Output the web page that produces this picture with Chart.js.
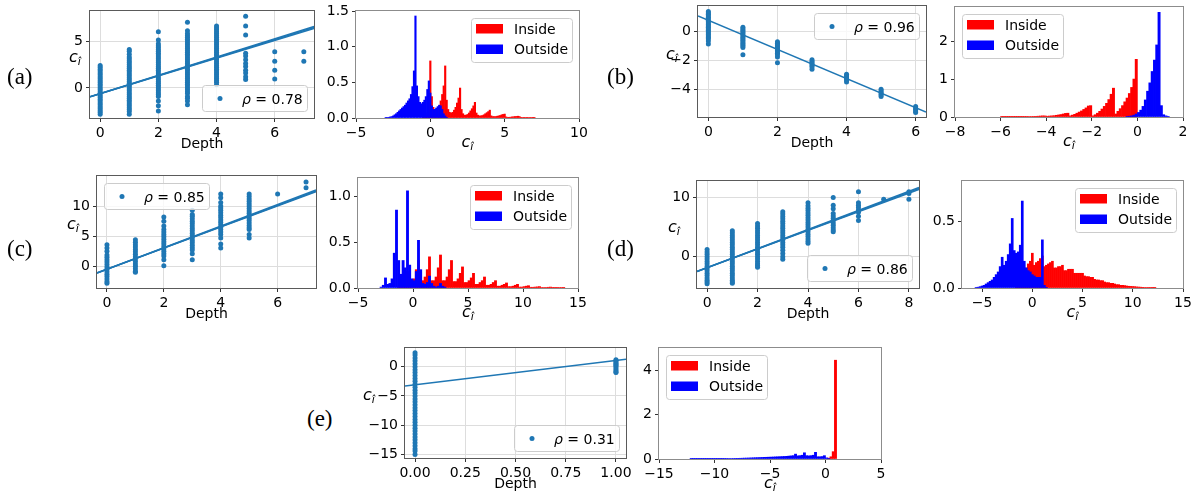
<!DOCTYPE html>
<html><head><meta charset="utf-8">
<script src="https://cdn.jsdelivr.net/npm/chart.js@4.4.1/dist/chart.umd.min.js"></script>
<style>
html,body{margin:0;padding:0;background:#fff;}
#fig{position:relative;width:1200px;height:493px;overflow:hidden;background:#fff;}
#fig canvas{position:absolute;}
.plab{position:absolute;font-family:"Liberation Serif","DejaVu Serif",serif;font-size:23px;color:#000;line-height:1;white-space:nowrap;}
</style></head><body><div id="fig"></div>
<script>
// ---------------- DATA ----------------
const panelLetters = ['(a)','(b)','(c)','(d)','(e)'];
const rhoA = 0.78, rhoB = 0.96, rhoC = 0.85, rhoD = 0.86, rhoE = 0.31;

// scatter: depth categories and c_i values per depth
const depthA = [0,1,2,3,4,5,6,7];
const ciA = [
 [2.4,2.2,2.0,1.8,1.6,1.4,1.2,1.0,0.8,0.6,0.4,0.2,0.0,-0.2,-0.4,-0.6,-0.8,-1.0,-1.2,-1.4,-1.6,-1.8,-2.0,-2.2,-2.4,-2.6,-2.8],
 [4.1,3.9,3.6,3.3,3.1,2.9,2.7,2.5,2.3,2.1,1.9,1.7,1.5,1.3,1.1,0.9,0.7,0.5,0.3,0.1,-0.1,-0.3,-0.5,-0.7,-0.9,-1.1,-1.3,-1.5,-1.7,-1.9,-2.1,-2.3,-2.5,-2.8],
 [6.0,5.1,4.7,4.5,4.3,4.1,3.9,3.7,3.5,3.3,3.1,2.9,2.7,2.5,2.3,2.1,1.9,1.7,1.5,1.3,1.1,0.9,0.7,0.5,0.3,0.1,-0.1,-0.3,-0.5,-0.7,-0.9,-1.4,-1.9,-2.45],
 [7.0,6.1,5.8,5.6,5.4,5.2,5.0,4.8,4.6,4.4,4.2,4.0,3.8,3.6,3.4,3.2,3.0,2.8,2.6,2.4,2.2,2.0,1.8,1.6,1.4,1.2,1.0,0.8,0.6,0.4,0.2,0.0,-0.2,-0.4,-0.6,-0.9,-1.1,-1.4,-1.8],
 [6.6,6.4,6.2,6.0,5.8,5.6,5.4,5.2,5.0,4.8,4.6,4.4,4.2,4.0,3.8,3.6,3.4,3.2,3.0,2.8,2.6,2.4,2.2,2.0,1.8,1.6,1.4,1.2,1.0,0.8,0.6,0.35],
 [7.65,6.6,5.65,3.7,3.4,3.0,2.6,2.3,1.9,1.6,1.2,0.9],
 [3.85,2.85,1.9,0.95],
 [3.85,2.85]
];
const fitA = [[-0.61,0.945],[-0.61,0.96],[-0.61,0.975]];

const depthB = [0,1,2,3,4,5,6];
const ciB = [
 [1.4,1.3,1.2,1.1,1.0,0.9,0.8,0.7,0.6,0.5,0.4,0.3,0.2,0.1,0.0,-0.1,-0.2,-0.3,-0.4,-0.5,-0.65,-0.85],
 [0.3,0.2,0.1,0.0,-0.1,-0.2,-0.3,-0.4,-0.5,-0.6,-0.7,-0.8,-0.9,-1.0,-1.1,-1.6],
 [-0.7,-0.8,-0.9,-1.0,-1.1,-1.2,-1.3,-1.4,-1.5,-1.6,-1.75,-2.15],
 [-1.95,-2.05,-2.15,-2.25,-2.35,-2.45,-2.6],
 [-2.95,-3.05,-3.15,-3.25,-3.35,-3.5],
 [-4.0,-4.1,-4.2,-4.3,-4.4,-4.5],
 [-5.2,-5.3,-5.4,-5.5,-5.6]
];
const fitB = [[0.79,-1.01]];

const depthC = [0,1,2,3,4,5,6,7];
const ciC = [
 [3.6,3.05,2.5,1.9,1.5,1.1,0.7,0.3,-0.1,-0.5,-0.9,-1.3,-1.7,-2.1,-2.5,-2.8],
 [4.4,4.0,3.6,3.2,2.8,2.4,2.0,1.6,1.2,0.8,0.4,0.0,-0.4,-0.8,-1.0],
 [8.2,7.5,6.7,6.1,5.7,5.3,4.9,4.5,4.1,3.7,3.3,2.9,2.5,2.1,1.7,1.1,0.1],
 [9.3,8.6,8.3,7.9,7.5,7.1,6.7,6.3,5.9,5.5,5.1,4.7,4.3,3.9,3.5,3.1,2.7,2.1,1.1],
 [12.0,11.4,10.6,10.0,9.7,9.3,8.9,8.5,8.1,7.7,7.3,6.9,6.5,6.1,5.7,5.3,4.7,3.7,3.05],
 [12.0,11.6,11.2,10.8,10.4,10.0,9.6,9.2,8.8,8.4,8.0,7.6,7.2,6.8,6.4,6.1,5.3,4.7],
 [12.0],
 [14.0,13.05]
];
const fitC = [[-0.48,1.75],[-0.48,1.77],[-0.48,1.79]];

const depthD = [0,1,2,3,4,5,6,7,8];
const ciD = [
 [1.2,0.8,0.4,0.0,-0.4,-0.8,-1.2,-1.6,-2.0,-2.4,-2.8,-3.2,-3.6,-4.0,-4.3,-4.6],
 [4.4,4.0,3.6,3.2,2.8,2.4,2.0,1.6,1.2,0.8,0.4,0.0,-0.4,-0.8,-1.2,-1.6,-2.0,-2.4,-2.8,-3.2,-3.6,-4.0,-4.3,-4.5],
 [5.6,5.2,4.8,4.4,4.0,3.6,3.2,2.8,2.4,2.0,1.6,1.2,0.8,0.4,0.0,-0.4,-0.8,-1.2,-1.5,-1.8],
 [7.6,7.2,6.8,6.4,6.0,5.6,5.2,4.8,4.4,4.0,3.6,3.2,2.8,2.4,2.0,1.6,1.1,0.55,0.0,-0.45],
 [9.1,8.6,8.2,7.8,7.4,7.0,6.6,6.2,5.8,5.4,5.0,4.6,4.2,3.8,3.4,3.0,2.6,2.25],
 [10.0,8.7,8.1,7.3,6.9,6.5,6.1,5.7,5.3,4.9,4.5,4.2],
 [11.0,9.1,8.7,8.3,7.9,7.5,6.85,6.1],
 [9.7],
 [11.0,10.7,9.7]
];
const fitD = [[-1.86,1.575],[-1.86,1.595],[-1.86,1.615]];

const depthE = [0,1];
const ciE = [
 [2.4,2.0,1.5,1.0,0.5,0.0,-0.5,-1.0,-1.5,-2.0,-2.5,-3.0,-3.5,-4.0,-4.5,-5.0,-5.5,-6.0,-6.5,-7.0,-7.5,-8.0,-8.5,-9.0,-9.5,-10.0,-10.5,-11.0,-11.5,-12.0,-12.5,-13.0,-13.5,-14.0,-14.4,-15.0],
 [1.2,1.0,0.8,0.6,0.4,0.2,0.0,-0.3,-0.6,-0.9,-1.0]
];
const fitE = [[-3.09,4.15]];

// histograms: bin width, first bin centre, density per bin
const binA = 0.1;
const outsideAStart = -3.0;
const outsideA = [0.005,0.008,0.01,0.015,0.02,0.03,0.045,0.06,0.08,0.1, 0.12,0.14,0.16,0.18,0.21,0.24,0.27,0.33,0.44,0.66, 1.43,0.45,0.3,0.22,0.2,0.22,0.25,0.3,0.4,0.52, 0.35,0.17,0.12,0.12,0.14,0.16,0.18,0.17,0.12,0.06, 0.03,0.01];
const insideAStart = -0.5;
const insideA = [0.01,0.02,0.04,0.07,0.12, 0.8,0.3,0.15,0.12,0.11,
 0.13,0.17,0.24,0.33,0.45, 0.73,0.25,0.12,0.08,0.07,
 0.08,0.11,0.15,0.21,0.28, 0.42,0.12,0.06,0.04,0.04,
 0.05,0.07,0.1,0.13,0.17, 0.22,0.07,0.04,0.03,0.03,
 0.035,0.045,0.06,0.075,0.09, 0.11,0.03,0.02,0.02,0.02,
 0.025,0.03,0.035,0.045,0.05, 0.055,0.015,0.01,0.01,0.012,
 0.015,0.018,0.02,0.022,0.025, 0.02,0.008,0.008,0.008,0.008,
 0.008,0.008,0.007,0.006,0.005,0.004];

const binB = 0.1;
const insideBStart = -5.95;
const insideB = [0.003,0.003,0.004,0.004,0.005,0.005,0.006,0.007,0.008,0.008,
 0.01,0.01,0.012,0.014,0.016,0.018,0.021,0.025,0.03,0.028,
 0.02,0.025,0.03,0.035,0.045,0.055,0.065,0.08,0.095,0.1,
 0.03,0.05,0.07,0.1,0.13,0.16,0.2,0.24,0.29,0.3,
 0.03,0.06,0.1,0.15,0.21,0.28,0.36,0.46,0.6,0.76,
 0.08,0.15,0.22,0.3,0.4,0.5,0.62,0.78,1.0,1.52];
const outsideBStart = -0.45;
const outsideB = [0.01,0.02,0.03,0.05,0.08,0.12,0.18,0.28,0.45,0.68,0.9,1.2,1.5,1.9,2.76,0.3,0.06,0.03,0.01];

const binC = 0.2;
const outsideCStart = -2.9;
const outsideC = [0.01,0.03,0.11,0.04,0.05,0.1,0.38,0.85,0.3,0.15, 0.3,0.22,1.06,0.25,0.1,0.08,0.18,0.52,0.2,0.05, 0.04,0.06,0.13,0.05,0.02,0.01,0.02,0.05,0.02,0.01];
const insideCStart = -1.3;
const insideC = [0.01,0.03,0.06,0.12,0.18, 0.05,0.06,0.1,0.2,0.3, 0.08,0.08,0.12,0.2,0.34, 0.08,0.08,0.12,0.22,0.36,
 0.08,0.08,0.12,0.2,0.3, 0.07,0.07,0.1,0.16,0.23, 0.06,0.06,0.08,0.11,0.16, 0.04,0.04,0.06,0.08,0.12,
 0.03,0.03,0.04,0.06,0.08, 0.02,0.02,0.03,0.04,0.055, 0.015,0.015,0.02,0.03,0.04, 0.01,0.01,0.015,0.02,0.025,
 0.008,0.008,0.01,0.012,0.015, 0.005,0.005,0.006,0.008,0.01, 0.004,0.004,0.004,0.005,0.006, 0.003];

const binD = 0.2;
const outsideDStart = -5.6;
const outsideD = [0.003,0.006,0.01,0.015,0.02,0.03,0.04,0.05,0.06,0.08, 0.1,0.12,0.16,0.23,0.17,0.2,0.25,0.33,0.52,0.28, 0.26,0.27,0.32,0.65,0.2,0.15,0.13,0.12,0.1,0.09, 0.08,0.08,0.08,0.36,0.02,0.005];
const insideDStart = -1.6;
const insideD = [0.02,0.04,0.06,0.09,0.12,0.15,0.18,0.2,0.26,0.17,
 0.19,0.2,0.22,0.24,0.16,0.17,0.18,0.19,0.2,0.15,
 0.15,0.16,0.16,0.17,0.13,0.13,0.14,0.14,0.14,0.11,
 0.11,0.11,0.11,0.11,0.09,0.085,0.085,0.08,0.08,0.065,
 0.06,0.06,0.055,0.055,0.045,0.04,0.04,0.035,0.035,0.03,
 0.025,0.025,0.02,0.02,0.018,0.015,0.013,0.012,0.011,0.01,
 0.008,0.007,0.006,0.005,0.004,0.004,0.003,0.003,0.002,0.002];

const binE = 0.2;
const outsideEStart = -12.1;
const outsideE = [0.002,0.002,0.003,0.003,0.004,0.004,0.005,0.006,0.007,0.008,
 0.01,0.011,0.012,0.014,0.015,0.017,0.019,0.021,0.023,0.025,
 0.028,0.03,0.033,0.036,0.039,0.042,0.046,0.05,0.054,0.058,
 0.062,0.066,0.07,0.074,0.078,0.082,0.086,0.09,0.095,0.1,
 0.105,0.11,0.115,0.12,0.13,0.14,0.15,0.22,0.14,0.15,
 0.17,0.28,0.15,0.14,0.15,0.17,0.3,0.1,0.1,0.11,
 0.15,0.05,0.02];
const insideEStart = 0.3;
const insideE = [0.04,0.1,0.33,4.45];

// tick values and labels
const xTicksA = [0,2,4,6], xLabA = ['0','2','4','6'];
const yTicksA = [0,5], yLabA = ['0','5'];
const hxTicksA = [-5,0,5,10], hxLabA = ['\u22125','0','5','10'];
const hyTicksA = [0,0.5,1.0,1.5], hyLabA = ['0.0','0.5','1.0','1.5'];
const xTicksB = [0,2,4,6], xLabB = ['0','2','4','6'];
const yTicksB = [-4,-2,0], yLabB = ['\u22124','\u22122','0'];
const hxTicksB = [-8,-6,-4,-2,0,2], hxLabB = ['\u22128','\u22126','\u22124','\u22122','0','2'];
const hyTicksB = [0,1,2], hyLabB = ['0','1','2'];
const xTicksC = [0,2,4,6], xLabC = ['0','2','4','6'];
const yTicksC = [0,5,10], yLabC = ['0','5','10'];
const hxTicksC = [-5,0,5,10,15], hxLabC = ['\u22125','0','5','10','15'];
const hyTicksC = [0,0.5,1.0], hyLabC = ['0.0','0.5','1.0'];
const xTicksD = [0,2,4,6,8], xLabD = ['0','2','4','6','8'];
const yTicksD = [0,10], yLabD = ['0','10'];
const hxTicksD = [-5,0,5,10,15], hxLabD = ['\u22125','0','5','10','15'];
const hyTicksD = [0,0.5], hyLabD = ['0.0','0.5'];
const xTicksE = [0,0.25,0.5,0.75,1.0], xLabE = ['0.00','0.25','0.50','0.75','1.00'];
const yTicksE = [-15,-10,-5,0], yLabE = ['\u221215','\u221210','\u22125','0'];
const hxTicksE = [-15,-10,-5,0,5], hxLabE = ['\u221215','\u221210','\u22125','0','5'];
const hyTicksE = [0,2,4], hyLabE = ['0','2','4'];

// ---------------- DRAWING ----------------
const FONT = '"DejaVu Sans", Verdana, sans-serif';
const BLUE = '#1f77b4', RED = '#ff0000', NAVY = '#0000ff';
const fig = document.getElementById('fig');
const ML = 62, MT = 12, MR = 30, MB = 48;

function rr(ctx,x,y,w,h,r){ctx.beginPath();ctx.moveTo(x+r,y);ctx.lineTo(x+w-r,y);ctx.quadraticCurveTo(x+w,y,x+w,y+r);ctx.lineTo(x+w,y+h-r);ctx.quadraticCurveTo(x+w,y+h,x+w-r,y+h);ctx.lineTo(x+r,y+h);ctx.quadraticCurveTo(x,y+h,x,y+h-r);ctx.lineTo(x,y+r);ctx.quadraticCurveTo(x,y,x+r,y);ctx.closePath();}

function drawCi(ctx, x, y, centered){
  ctx.save();
  ctx.fillStyle='#000'; ctx.textBaseline='alphabetic'; ctx.textAlign='left';
  ctx.font='italic 16px '+FONT; const wc=ctx.measureText('c').width;
  ctx.font='italic 11px '+FONT; const wi=ctx.measureText('\u00ee').width;
  const x0 = centered ? x-(wc+wi)/2 : x;
  ctx.font='italic 16px '+FONT; ctx.fillText('c', x0, y);
  ctx.font='italic 11px '+FONT; ctx.fillText('\u00ee', x0+wc, y+3);
  ctx.restore();
}
function legendPos(ca, corner, w, h){
  const m=7;
  return {x: corner.indexOf('r')>=0 ? ca.right-m-w : ca.left+m,
          y: corner.indexOf('u')>=0 ? ca.top+m : ca.bottom-m-h};
}
function frame(ctx,x,y,w,h){
  ctx.fillStyle='rgba(255,255,255,0.8)'; rr(ctx,x+0.5,y+0.5,w,h,3); ctx.fill();
  ctx.strokeStyle='#cccccc'; ctx.lineWidth=1; ctx.stroke();
}

function makeChart(p, type, datasets){
  const [l,t,r,b] = p.rect;
  const W = r-l+ML+MR, H = b-t+MT+MB;
  const cv = document.createElement('canvas');
  cv.width=W; cv.height=H;
  cv.style.left=(l-ML)+'px'; cv.style.top=(t-MT)+'px';
  cv.style.width=W+'px'; cv.style.height=H+'px';
  fig.appendChild(cv);
  const isSc = type==='scatter';
  const axis = (min,max,ticks,labels,isX) => ({
    type:'linear', min:min, max:max, offset:false,
    afterBuildTicks: s => { s.ticks = ticks.map(v=>({value:v})); },
    afterFit: s => { if(isX) s.height = MB; else s.width = ML; },
    ticks:{autoSkip:false, maxRotation:0, minRotation:0, padding:3, color:'#000',
      font:{family:FONT,size:14}, callback:(v,i)=>labels[i]},
    grid:{display:true, offset:false, drawOnChartArea:isSc, color:'#dddddd', lineWidth:1,
      drawTicks:true, tickLength:4, tickColor:'#333', tickWidth:1},
    border:{display:false}
  });
  const deco = {
    id:'deco'+p.name,
    afterDatasetsDraw(chart){
      const ctx=chart.ctx, ca=chart.chartArea;
      ctx.save();
      ctx.strokeStyle = isSc ? '#5a5a5a' : '#8c8c8c'; ctx.lineWidth=1;
      ctx.strokeRect(ca.left-0.5, ca.top-0.5, ca.right-ca.left+1, ca.bottom-ca.top+1);
      if(isSc){
        const w=105,h=26, q=legendPos(ca,p.legend,w,h);
        frame(ctx,q.x,q.y,w,h);
        ctx.fillStyle=BLUE; ctx.beginPath(); ctx.arc(q.x+18,q.y+13.5,2.5,0,2*Math.PI); ctx.fill();
        ctx.fillStyle='#000'; ctx.textBaseline='alphabetic'; ctx.textAlign='left';
        ctx.font='italic 14px '+FONT; ctx.fillText('\u03c1', q.x+40, q.y+18.5);
        const wr=ctx.measureText('\u03c1').width;
        ctx.font='14px '+FONT; ctx.fillText(' = '+p.rho.toFixed(2), q.x+40+wr, q.y+18.5);
        ctx.font='14px '+FONT; ctx.textAlign='center';
        ctx.fillText('Depth', (ca.left+ca.right)/2, ca.bottom+30);
      } else {
        const w=101,h=44, q=legendPos(ca,p.legend,w,h);
        frame(ctx,q.x,q.y,w,h);
        ctx.fillStyle=RED; ctx.fillRect(q.x+5,q.y+6,27,9.5);
        ctx.fillStyle=NAVY; ctx.fillRect(q.x+5,q.y+26.5,27,9.5);
        ctx.fillStyle='#000'; ctx.textBaseline='alphabetic'; ctx.textAlign='left';
        ctx.font='14px '+FONT;
        ctx.fillText('Inside', q.x+43, q.y+15.5);
        ctx.fillText('Outside', q.x+43, q.y+36);
        drawCi(ctx,(ca.left+ca.right)/2, ca.bottom+29, true);
      }
      if(isSc) drawCi(ctx, ca.left-p.ylab, (ca.top+ca.bottom)/2-3, false);
      ctx.restore();
    }
  };
  const opts = {
    responsive:false, animation:false, devicePixelRatio:1, events:[],
    layout:{padding:{left:0,top:MT,right:MR,bottom:0}},
    plugins:{legend:{display:false}, tooltip:{enabled:false}},
    scales:{ x: axis(p.xr[0],p.xr[1],p.xt,p.xl,true), y: axis(p.yr[0],p.yr[1],p.yt,p.yl,false) }
  };
  new Chart(cv, {type:type, data:{datasets:datasets}, options:opts, plugins:[deco]});
}

function scatterPanel(p){
  const ds = [];
  p.fits.forEach(f => ds.push({
    data:[{x:p.xr[0], y:f[0]+f[1]*p.xr[0]}, {x:p.xr[1], y:f[0]+f[1]*p.xr[1]}],
    showLine:true, borderColor:BLUE, backgroundColor:BLUE, borderWidth:1.5, pointRadius:0, order:0
  }));
  const pts = [];
  p.depths.forEach((d,i) => p.values[i].forEach(v => pts.push({x:d, y:v})));
  ds.push({data:pts, showLine:false, backgroundColor:BLUE, borderColor:BLUE, pointRadius:2.5, pointBorderWidth:0, order:1});
  makeChart(p,'scatter',ds);
}
function binData(start, w, vals){
  return vals.map((v,i)=>({x: Math.round((start+i*w)*1000)/1000, y:v}));
}
function histPanel(p){
  const common = {barPercentage:1, categoryPercentage:1, grouped:false, borderWidth:0};
  const ds = [
    Object.assign({label:'Inside', data:binData(p.inStart,p.bin,p.inside), backgroundColor:RED, order:1}, common),
    Object.assign({label:'Outside', data:binData(p.outStart,p.bin,p.outside), backgroundColor:NAVY, order:0}, common)
  ];
  makeChart(p,'bar',ds);
}

scatterPanel({name:'sa', rect:[90,11,314,118], xr:[-0.35,7.35], yr:[-3.2,8.2], xt:xTicksA, xl:xLabA, yt:yTicksA, yl:yLabA,
  depths:depthA, values:ciA, fits:fitA, rho:rhoA, legend:'lr', ylab:21});
histPanel({name:'ha', rect:[356,11,579,118], xr:[-5,10], yr:[0,1.5], xt:hxTicksA, xl:hxLabA, yt:hyTicksA, yl:hyLabA,
  bin:binA, inStart:insideAStart, inside:insideA, outStart:outsideAStart, outside:outsideA, legend:'ur'});
scatterPanel({name:'sb', rect:[698,6,926,117], xr:[-0.3,6.3], yr:[-5.92,1.78], xt:xTicksB, xl:xLabB, yt:yTicksB, yl:yLabB,
  depths:depthB, values:ciB, fits:fitB, rho:rhoB, legend:'ur', ylab:32});
histPanel({name:'hb', rect:[955,7,1183,117], xr:[-8,2], yr:[0,2.9], xt:hxTicksB, xl:hxLabB, yt:hyTicksB, yl:hyLabB,
  bin:binB, inStart:insideBStart, inside:insideB, outStart:outsideBStart, outside:outsideB, legend:'ul'});
scatterPanel({name:'sc', rect:[97,176,316,288], xr:[-0.35,7.35], yr:[-3.6,15.0], xt:xTicksC, xl:xLabC, yt:yTicksC, yl:yLabC,
  depths:depthC, values:ciC, fits:fitC, rho:rhoC, legend:'ul', ylab:30});
histPanel({name:'hc', rect:[358,178,578,288], xr:[-5,15], yr:[0,1.2], xt:hxTicksC, xl:hxLabC, yt:hyTicksC, yl:hyLabC,
  bin:binC, inStart:insideCStart, inside:insideC, outStart:outsideCStart, outside:outsideC, legend:'ur'});
scatterPanel({name:'sd', rect:[697,181,919,288], xr:[-0.4,8.4], yr:[-5.3,12.8], xt:xTicksD, xl:xLabD, yt:yTicksD, yl:yLabD,
  depths:depthD, values:ciD, fits:fitD, rho:rhoD, legend:'lr', ylab:29});
histPanel({name:'hd', rect:[962,181,1183,288], xr:[-7,15], yr:[0,0.8], xt:hxTicksD, xl:hxLabD, yt:hyTicksD, yl:hyLabD,
  bin:binD, inStart:insideDStart, inside:insideD, outStart:outsideDStart, outside:outsideD, legend:'ur'});
scatterPanel({name:'se', rect:[405,348,626,458], xr:[-0.05,1.05], yr:[-15.6,3.2], xt:xTicksE, xl:xLabE, yt:yTicksE, yl:yLabE,
  depths:depthE, values:ciE, fits:fitE, rho:rhoE, legend:'lr', ylab:42});
histPanel({name:'he', rect:[659,348,881,459], xr:[-15,5], yr:[0,5], xt:hxTicksE, xl:hxLabE, yt:hyTicksE, yl:hyLabE,
  bin:binE, inStart:insideEStart, inside:insideE, outStart:outsideEStart, outside:outsideE, legend:'ul'});

const letterPos = [[7,65],[607,65],[7,237],[607,237],[307,407]];
panelLetters.forEach((s,i)=>{
  const d=document.createElement('div'); d.className='plab'; d.textContent=s;
  d.style.left=letterPos[i][0]+'px'; d.style.top=letterPos[i][1]+'px'; fig.appendChild(d);
});
</script></body></html>
